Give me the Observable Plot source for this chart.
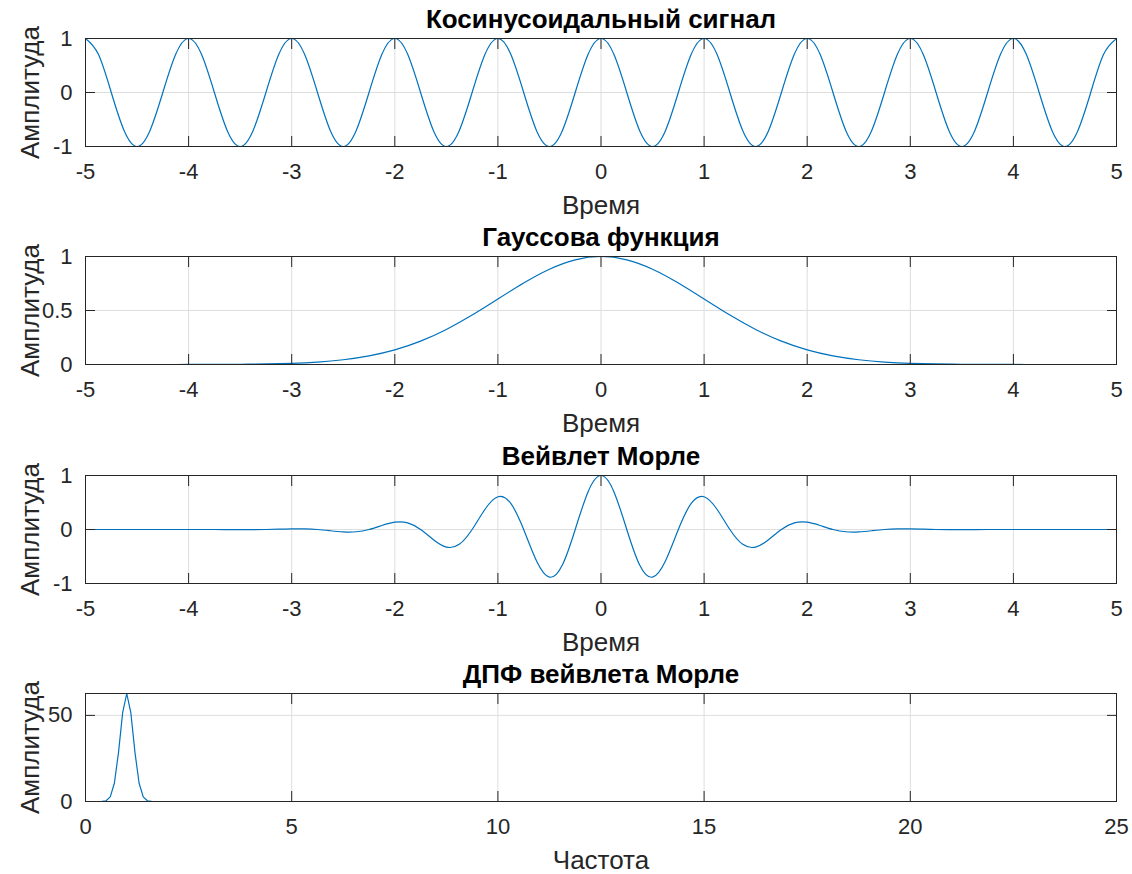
<!DOCTYPE html>
<html>
<head>
<meta charset="utf-8">
<script src="https://cdn.jsdelivr.net/npm/d3@7"></script>
<script src="https://cdn.jsdelivr.net/npm/@observablehq/plot@0.6"></script>
<style>
  html, body { margin: 0; padding: 0; background: #fff; }
  #chart svg { display: block; }
</style>
</head>
<body>
<div id="chart"></div>
<script>
// ---------- Data ----------
const titles = ["Косинусоидальный сигнал", "Гауссова функция", "Вейвлет Морле", "ДПФ вейвлета Морле"];
const xLabels = ["Время", "Время", "Время", "Частота"];
const yLabel = "Амплитуда";

const timeTicks = [-5, -4, -3, -2, -1, 0, 1, 2, 3, 4, 5];
const freqTicks = [0, 5, 10, 15, 20, 25];
const cosYTicks = [-1, 0, 1];
const gaussYTicks = [0, 0.5, 1];
const morletYTicks = [-1, 0, 1];
const dftYTicks = [0, 50];

// time samples every 0.25 s from -5 to 5
const timeQuarter = [-5,-4.75,-4.5,-4.25,-4,-3.75,-3.5,-3.25,-3,-2.75,-2.5,-2.25,-2,-1.75,-1.5,-1.25,-1,-0.75,-0.5,-0.25,0,
  0.25,0.5,0.75,1,1.25,1.5,1.75,2,2.25,2.5,2.75,3,3.25,3.5,3.75,4,4.25,4.5,4.75,5];

// time samples every 0.125 s from -5 to 5
const timeEighth = [-5,-4.875,-4.75,-4.625,-4.5,-4.375,-4.25,-4.125,-4,-3.875,-3.75,-3.625,-3.5,-3.375,-3.25,-3.125,-3,-2.875,-2.75,-2.625,-2.5,
  -2.375,-2.25,-2.125,-2,-1.875,-1.75,-1.625,-1.5,-1.375,-1.25,-1.125,-1,-0.875,-0.75,-0.625,-0.5,-0.375,-0.25,-0.125,0,
  0.125,0.25,0.375,0.5,0.625,0.75,0.875,1,1.125,1.25,1.375,1.5,1.625,1.75,1.875,2,2.125,2.25,2.375,2.5,
  2.625,2.75,2.875,3,3.125,3.25,3.375,3.5,3.625,3.75,3.875,4,4.125,4.25,4.375,4.5,4.625,4.75,4.875,5];

// cosine signal (one value every 0.125 s)
const cosAmp = [
  1,0.707,0,-0.707,-1,-0.707,0,0.707, 1,0.707,0,-0.707,-1,-0.707,0,0.707,
  1,0.707,0,-0.707,-1,-0.707,0,0.707, 1,0.707,0,-0.707,-1,-0.707,0,0.707,
  1,0.707,0,-0.707,-1,-0.707,0,0.707, 1,0.707,0,-0.707,-1,-0.707,0,0.707,
  1,0.707,0,-0.707,-1,-0.707,0,0.707, 1,0.707,0,-0.707,-1,-0.707,0,0.707,
  1,0.707,0,-0.707,-1,-0.707,0,0.707, 1,0.707,0,-0.707,-1,-0.707,0,0.707, 1];

// Gaussian (one value every 0.25 s)
const gaussAmp = [0,0,0,0,0.0003,0.0009,0.0022,0.0051,0.0111,0.0228,0.0439,0.0796,0.1353,0.2163,0.3247,0.4578,0.6065,0.7548,0.8825,0.9692,1,
  0.9692,0.8825,0.7548,0.6065,0.4578,0.3247,0.2163,0.1353,0.0796,0.0439,0.0228,0.0111,0.0051,0.0022,0.0009,0.0003,0,0,0,0];

// Morlet wavelet (one value every 0.125 s)
const morletAmp = [0,0,0,0,0,0,0,0,0,0,0,-0.001,-0.0022,-0.0024,0,0.0053,0.011,0.011,0,-0.023,-0.044,
  -0.042,0,0.074,0.135,0.122,0,-0.189,-0.325,-0.275,0,0.375,0.607,0.482,0,-0.582,-0.882,-0.659,0,0.701,1,
  0.701,0,-0.659,-0.882,-0.582,0,0.482,0.607,0.375,0,-0.275,-0.325,-0.189,0,0.122,0.135,
  0.074,0,-0.042,-0.044,-0.023,0,0.011,0.011,0.0053,0,-0.0024,-0.0022,-0.001,0,0,0,0,0,0,0,0,0,0,0];

// DFT magnitude of the Morlet wavelet
const freq = [0,0.1,0.2,0.3,0.4,0.5,0.6,0.7,0.8,0.9,1.0,1.1,1.2,1.3,1.4,1.5,1.6,1.7,1.8,1.9,2.0,25];
const dftAmp = [0,0,0,0,0.05,0.45,2.66,10.6,28.4,51.4,62.7,51.4,28.4,10.6,2.66,0.45,0.05,0,0,0,0,0];

// ---------- Styling ----------
const FONT = "'Liberation Sans', Arial, Helvetica, sans-serif";
const AXIS = "#262626";
const GRID = "#dedede";
const LINE = "#0072BD";

function panel({xs, ys, xDomain, yDomain, xTicks, yTicks, title, xLabel, curve, height}) {
  const data = xs.map((x, i) => ({x, y: ys[i]}));
  return Plot.plot({
    width: 1132,
    height,
    marginLeft: 85,
    marginRight: 16,
    marginTop: 38,
    marginBottom: height - 146,
    style: {fontFamily: FONT, background: "white", overflow: "visible"},
    x: {domain: xDomain},
    y: {domain: yDomain},
    marks: [
      Plot.gridX(xTicks, {stroke: GRID, strokeOpacity: 1}),
      Plot.gridY(yTicks, {stroke: GRID, strokeOpacity: 1}),
      Plot.line(data, {x: "x", y: "y", curve, stroke: LINE, strokeWidth: 1.2, clip: true}),
      Plot.axisX(xTicks, {anchor: "bottom", tickSize: -10, tickFormat: () => "", label: null, stroke: AXIS}),
      Plot.axisX(xTicks, {anchor: "top", tickSize: -10, tickFormat: () => "", label: null, stroke: AXIS}),
      Plot.axisY(yTicks, {anchor: "left", tickSize: -10, tickFormat: () => "", label: null, stroke: AXIS}),
      Plot.axisY(yTicks, {anchor: "right", tickSize: -10, tickFormat: () => "", label: null, stroke: AXIS}),
      Plot.frame({stroke: AXIS, strokeWidth: 1}),
      Plot.text(xTicks, {x: d => d, text: d => String(d), frameAnchor: "bottom", dy: 32, lineAnchor: "bottom", fontSize: 22, fill: AXIS}),
      Plot.text(yTicks, {y: d => d, text: d => String(d), frameAnchor: "left", dx: -13, textAnchor: "end", lineAnchor: "middle", fontSize: 22, fill: AXIS}),
      Plot.text([title], {text: d => d, frameAnchor: "top", dy: -11, lineAnchor: "bottom", textAnchor: "middle", fontSize: 26, fontWeight: "bold", fill: "#000"}),
      Plot.text([xLabel], {text: d => d, frameAnchor: "bottom", dy: 67, lineAnchor: "bottom", textAnchor: "middle", fontSize: 26, fill: AXIS}),
      Plot.text([yLabel], {text: d => d, frameAnchor: "left", dx: -47, rotate: -90, lineAnchor: "bottom", textAnchor: "middle", fontSize: 26, fill: AXIS})
    ]
  });
}

const root = document.getElementById("chart");
root.append(panel({xs: timeEighth, ys: cosAmp, xDomain: [-5, 5], yDomain: [-1, 1], xTicks: timeTicks, yTicks: cosYTicks,
  title: titles[0], xLabel: xLabels[0], curve: "natural", height: 218}));
root.append(panel({xs: timeQuarter, ys: gaussAmp, xDomain: [-5, 5], yDomain: [0, 1], xTicks: timeTicks, yTicks: gaussYTicks,
  title: titles[1], xLabel: xLabels[1], curve: "natural", height: 219}));
root.append(panel({xs: timeEighth, ys: morletAmp, xDomain: [-5, 5], yDomain: [-1, 1], xTicks: timeTicks, yTicks: morletYTicks,
  title: titles[2], xLabel: xLabels[2], curve: "natural", height: 218}));
root.append(panel({xs: freq, ys: dftAmp, xDomain: [0, 25], yDomain: [0, 62.7], xTicks: freqTicks, yTicks: dftYTicks,
  title: titles[3], xLabel: xLabels[3], curve: "linear", height: 219}));
</script>
</body>
</html>
